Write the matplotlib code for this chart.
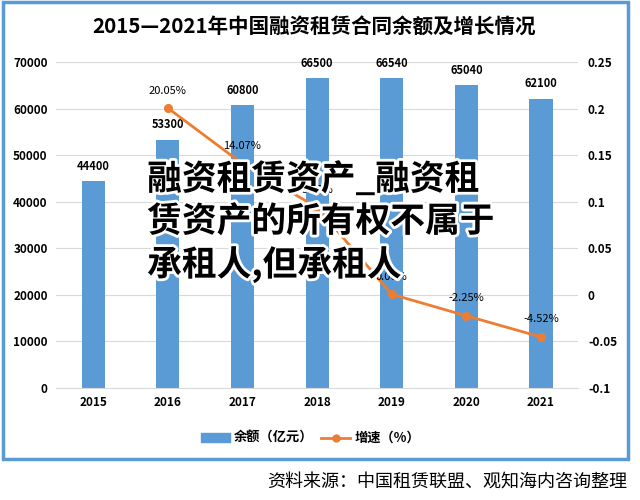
import matplotlib
matplotlib.use("Agg")
import matplotlib.pyplot as plt
import matplotlib.patheffects as pe
from matplotlib.patches import Rectangle
from matplotlib.lines import Line2D
import numpy as np

plt.rcParams['font.family'] = ['Noto Sans CJK SC', 'DejaVu Sans']

years = ['2015', '2016', '2017', '2018', '2019', '2020', '2021']
balance = [44400, 53300, 60800, 66500, 66540, 65040, 62100]
growth_years = ['2016', '2017', '2018', '2019', '2020', '2021']
growth = [0.2005, 0.1407, 0.0938, 0.0006, -0.0225, -0.0452]
growth_labels = ['20.05%', '14.07%', '9.38%', '0.06%', '-2.25%', '-4.52%']

bar_color = '#5B9BD5'
line_color = '#ED7D31'


def main():
    fig = plt.figure(figsize=(6.4, 5), dpi=100)
    ax = fig.add_axes([0.0875, 0.224, 0.816, 0.652])

    x = np.arange(len(years))
    ax.bar(x, balance, width=0.31, color=bar_color, zorder=2)
    for xi, v in zip(x, balance):
        ax.annotate(str(v), (xi, v), xytext=(0, 6), textcoords='offset points',
                    ha='center', va='bottom', fontsize=8, fontweight='bold')
    ax.set_ylim(0, 70000)
    ax.set_yticks(range(0, 70001, 10000))
    ax.set_xlim(-0.5, len(years) - 0.5)
    ax.set_xticks(x)
    ax.set_xticklabels(years)
    ax.grid(axis='y', color='#D9D9D9', lw=0.8, zorder=0)
    for s in ax.spines.values():
        s.set_visible(False)
    ax.spines['bottom'].set_visible(True)
    ax.spines['bottom'].set_color('#D9D9D9')
    ax.tick_params(length=0, labelsize=8.5, pad=6)
    for lab in ax.get_xticklabels() + ax.get_yticklabels():
        lab.set_fontweight('bold')

    ax2 = ax.twinx()
    gx = [years.index(y) for y in growth_years]
    ax2.plot(gx, growth, color=line_color, lw=2, marker='o', ms=5.5, zorder=3)
    for xi, v, t in zip(gx, growth, growth_labels):
        ax2.annotate(t, (xi, v), xytext=(0, 9), textcoords='offset points',
                     ha='center', va='bottom', fontsize=8)
    ax2.set_ylim(-0.1, 0.25)
    ax2.set_yticks([-0.1, -0.05, 0, 0.05, 0.1, 0.15, 0.2, 0.25])
    ax2.set_yticklabels(['-0.1', '-0.05', '0', '0.05', '0.1', '0.15', '0.2', '0.25'])
    for s in ax2.spines.values():
        s.set_visible(False)
    ax2.tick_params(length=0, labelsize=8.5, pad=7)
    for lab in ax2.get_yticklabels():
        lab.set_fontweight('bold')

    # legend
    handles = [Rectangle((0, 0), 1, 1, color=bar_color),
               Line2D([], [], color=line_color, lw=2, marker='o', ms=5)]
    fig.legend(handles, ['余额（亿元）', '增速（%）'], loc='center',
               bbox_to_anchor=(0.485, 0.124), ncol=2, frameon=False,
               prop={'size': 9.5, 'weight': 'bold'}, handlelength=2.2,
               handleheight=0.6, columnspacing=0.6, handletextpad=0.3)

    fig.text(0.49, 0.946, '2015—2021年中国融资租赁合同余额及增长情况',
             ha='center', va='center', fontsize=14.8, fontweight='bold')

    # frame around chart
    fig.patches.append(Rectangle((0.004, 0.082), 0.977, 0.914, fill=False,
                                 edgecolor=bar_color, lw=2.5,
                                 transform=fig.transFigure, figure=fig))

    fig.text(0.98, 0.034, '资料来源：中国租赁联盟、观知海内咨询整理',
             ha='right', va='center', fontsize=13)

    # overlay caption
    overlay = '融资租赁资产_融资租\n赁资产的所有权不属于\n承租人,但承租人'
    fig.text(0.23, 0.555, overlay, ha='left', va='center', fontsize=25,
             fontweight=900, color='black', linespacing=1.25,
             path_effects=[pe.withStroke(linewidth=4, foreground='white')])

    fig.savefig('out.png', dpi=100)


if __name__ == '__main__':
    main()
